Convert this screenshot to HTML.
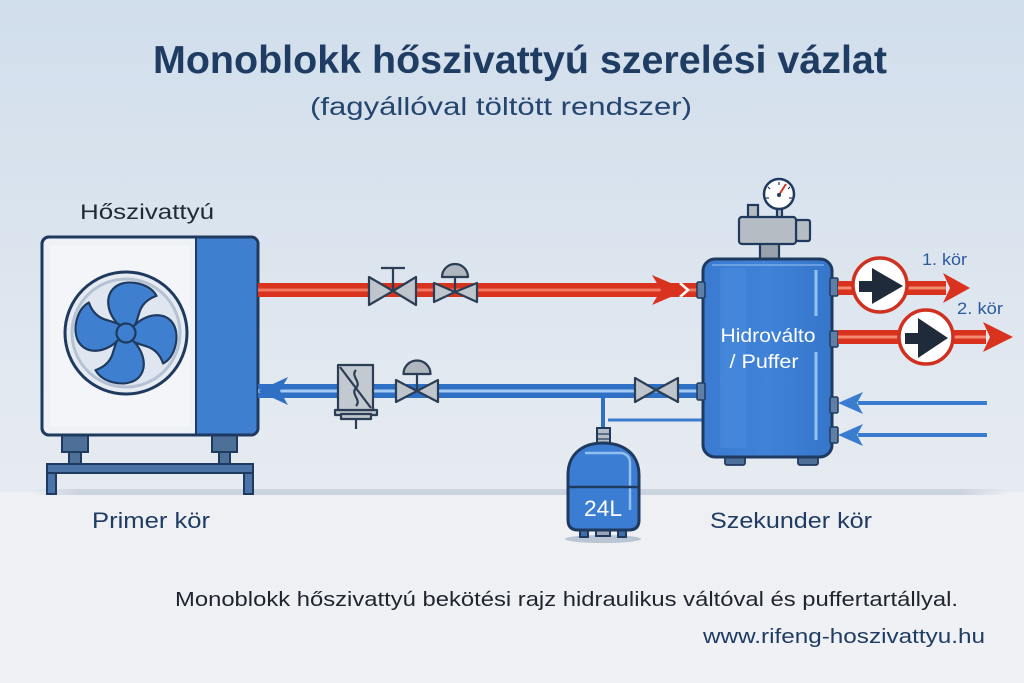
<!DOCTYPE html>
<html><head><meta charset="utf-8">
<style>
html,body{margin:0;padding:0;width:1024px;height:683px;overflow:hidden;}
svg{display:block;}
text{font-family:"Liberation Sans",sans-serif;}
</style></head>
<body>
<svg width="1024" height="683" viewBox="0 0 1024 683" xmlns="http://www.w3.org/2000/svg">
<defs>
<linearGradient id="bg" x1="0" y1="0" x2="0" y2="1">
<stop offset="0" stop-color="#d1deec"/>
<stop offset="0.35" stop-color="#dbe4ee"/>
<stop offset="0.7" stop-color="#e6ebf1"/>
<stop offset="1" stop-color="#eceff3"/>
</linearGradient>
<linearGradient id="floor" x1="0" y1="0" x2="0" y2="1">
<stop offset="0" stop-color="#eef0f4"/>
<stop offset="1" stop-color="#f0f1f4"/>
</linearGradient>
<linearGradient id="puf" x1="0" y1="0" x2="1" y2="0">
<stop offset="0" stop-color="#3a7bd0"/>
<stop offset="0.5" stop-color="#3f82d8"/>
<stop offset="1" stop-color="#3576ca"/>
</linearGradient>
<linearGradient id="floorline" x1="0" y1="0" x2="1" y2="0">
<stop offset="0" stop-color="#cbd3de" stop-opacity="0"/>
<stop offset="0.05" stop-color="#cbd3de"/>
<stop offset="0.95" stop-color="#cbd3de"/>
<stop offset="1" stop-color="#cbd3de" stop-opacity="0"/>
</linearGradient>
</defs>

<!-- background -->
<rect x="0" y="0" width="1024" height="683" fill="url(#bg)"/>
<rect x="0" y="492" width="1024" height="191" fill="url(#floor)"/>
<rect x="30" y="489" width="980" height="6" fill="url(#floorline)"/>

<!-- Titles -->
<text x="153" y="73" font-size="39" font-weight="bold" fill="#1f3c63" textLength="734" lengthAdjust="spacingAndGlyphs">Monoblokk hőszivattyú szerelési vázlat</text>
<text x="310" y="115" font-size="25" fill="#24456f" textLength="382" lengthAdjust="spacingAndGlyphs">(fagyállóval töltött rendszer)</text>

<text x="80" y="219" font-size="21" fill="#222a35" textLength="134" lengthAdjust="spacingAndGlyphs">Hőszivattyú</text>

<!-- Heat pump -->
<g stroke="#1f3a5f" stroke-width="2">
<rect x="62" y="435" width="26" height="17" fill="#4d6f98"/>
<rect x="69" y="452" width="12" height="13" fill="#4d6f98"/>
<rect x="212" y="435" width="25" height="17" fill="#4d6f98"/>
<rect x="219" y="452" width="11" height="13" fill="#4d6f98"/>
<rect x="47" y="464" width="206" height="9" fill="#4a74a8"/>
<rect x="47" y="473" width="9" height="21" fill="#4a74a8"/>
<rect x="244" y="473" width="9" height="21" fill="#4a74a8"/>
</g>
<rect x="42" y="237" width="216" height="198" rx="7" fill="#eef1f6" stroke="#1f3a5f" stroke-width="3"/>
<rect x="50" y="245" width="140" height="182" rx="3" fill="#f3f5f8"/>
<path d="M196,238.5 L250,238.5 Q256.5,238.5 256.5,245 L256.5,427 Q256.5,433.5 250,433.5 L196,433.5 Z" fill="#3f7fcf"/>
<line x1="196" y1="238" x2="196" y2="434" stroke="#1f3a5f" stroke-width="2"/>
<rect x="42" y="237" width="216" height="198" rx="7" fill="none" stroke="#1f3a5f" stroke-width="3"/>
<!-- fan -->
<circle cx="126" cy="333" r="61" fill="#e7ecf3" stroke="#1f3a5f" stroke-width="3"/>
<circle cx="126" cy="333" r="54" fill="#dfe6ef" stroke="#b4c2d3" stroke-width="3"/>
<g transform="translate(126,333) rotate(8)" fill="#3f7fcf" stroke="#1f3a5f" stroke-width="2.2" stroke-linejoin="round">
<path d="M-7,-6 C-22,-16 -28,-36 -15,-46 C-4,-54 17,-52 25,-41 C17,-37 11,-30 10,-20 C9,-13 8,-9 7,-6 Z"/>
<path d="M-7,-6 C-22,-16 -28,-36 -15,-46 C-4,-54 17,-52 25,-41 C17,-37 11,-30 10,-20 C9,-13 8,-9 7,-6 Z" transform="rotate(90)"/>
<path d="M-7,-6 C-22,-16 -28,-36 -15,-46 C-4,-54 17,-52 25,-41 C17,-37 11,-30 10,-20 C9,-13 8,-9 7,-6 Z" transform="rotate(180)"/>
<path d="M-7,-6 C-22,-16 -28,-36 -15,-46 C-4,-54 17,-52 25,-41 C17,-37 11,-30 10,-20 C9,-13 8,-9 7,-6 Z" transform="rotate(270)"/>
<circle cx="0" cy="0" r="9.5"/>
</g>

<!-- Red supply pipe -->
<rect x="258" y="283" width="445" height="14" fill="#d9321f"/>
<rect x="258" y="288.5" width="445" height="3" fill="#f38a72" opacity="0.8"/>
<polygon points="652,275 687,290 652,305 661,290" fill="#d9321f"/>
<polyline points="680,283 688,290 680,297" fill="none" stroke="#ffffff" stroke-width="2.5"/>

<!-- Blue return pipe -->
<rect x="258" y="384" width="445" height="14" fill="#2f6fc4"/>
<rect x="258" y="389.5" width="445" height="3" fill="#a3cbf3"/>
<polygon points="258,391 288,377 280,391 288,405" fill="#2f6fc4"/>

<!-- Valves -->
<g stroke="#2c3e55" stroke-width="2.2" stroke-linejoin="round" fill="#bfc5cc">
<line x1="393" y1="291" x2="393" y2="268"/>
<line x1="381" y1="268" x2="405" y2="268"/>
<polygon points="369,277 369,305 393,291"/>
<polygon points="416,277 416,305 393,291"/>
<line x1="455" y1="277" x2="455" y2="292"/>
<path d="M442,277 A13,13 0 0 1 468,277 Z" fill="#b0b6bd"/>
<polygon points="434,283 434,302 455,292"/>
<polygon points="477,283 477,302 455,292"/>
<line x1="356" y1="416" x2="356" y2="429"/>
<rect x="335" y="410" width="42" height="5" fill="#bfc5cc"/>
<rect x="341" y="414" width="30" height="5" fill="#bfc5cc"/>
<rect x="338" y="365" width="35" height="45" fill="#c3c9d0"/>
<line x1="340" y1="367" x2="371" y2="408"/>
<path d="M356,370 C350,376 362,382 356,388 C350,394 362,400 356,406" fill="none"/>
<line x1="417" y1="374" x2="417" y2="391"/>
<path d="M403.5,374 A13.5,13.5 0 0 1 430.5,374 Z" fill="#b0b6bd"/>
<polygon points="396,380 396,402 417,391"/>
<polygon points="438,380 438,402 417,391"/>
<polygon points="635,378 635,402 656,390"/>
<polygon points="678,378 678,402 656,390"/>
</g>

<!-- Expansion tank connection -->
<rect x="601" y="397" width="4" height="33" fill="#2f6fc4"/>
<rect x="608" y="418.5" width="95" height="3" fill="#3a7cd0"/>

<!-- Expansion tank -->
<ellipse cx="603" cy="539" rx="38" ry="4" fill="#b9c5d3"/>
<g stroke="#1f3a5f" stroke-width="2" fill="#3f6ea8">
<rect x="580" y="528" width="8" height="9"/>
<rect x="596" y="530" width="14" height="6" fill="#9aa6b3"/>
<rect x="618" y="528" width="8" height="9"/>
</g>
<rect x="597" y="428" width="13" height="17" fill="#b5bcc4" stroke="#1f3a5f" stroke-width="2"/>
<line x1="598" y1="434" x2="609" y2="434" stroke="#1f3a5f" stroke-width="1.2"/>
<line x1="598" y1="439" x2="609" y2="439" stroke="#1f3a5f" stroke-width="1.2"/>
<path d="M568,475 C568,452 585,443 603,443 C621,443 639,452 639,475 L639,520 Q639,530 629,530 L578,530 Q568,530 568,520 Z" fill="#3b7dd2" stroke="#1f3a5f" stroke-width="3"/>
<path d="M585,453 L622,453 Q630,455 630,463 L630,510" fill="none" stroke="#9cc6f2" stroke-width="2.5" opacity="0.9"/>
<line x1="568" y1="487" x2="639" y2="487" stroke="#1f3a5f" stroke-width="2.5"/>
<text x="603" y="516" font-size="22" fill="#ffffff" text-anchor="middle" textLength="38" lengthAdjust="spacingAndGlyphs">24L</text>

<!-- Puffer top fitting -->
<g stroke="#1f3a5f" stroke-width="2.2">
<rect x="760" y="243" width="19" height="17" fill="#9aa3ad"/>
<rect x="748" y="205" width="10" height="13" fill="#b5bcc4"/>
<rect x="777" y="207" width="5" height="11" fill="#b5bcc4"/>
<rect x="796" y="220" width="14" height="21" rx="2" fill="#b5bcc4"/>
<rect x="739" y="217" width="57" height="27" rx="3" fill="#b5bcc4"/>
<circle cx="779" cy="194" r="15" fill="#ffffff" stroke-width="2.5"/>
</g>
<g stroke="#1f3a5f" stroke-width="1.2">
<line x1="779" y1="182" x2="779" y2="185"/>
<line x1="768" y1="187" x2="770" y2="189"/>
<line x1="790" y1="187" x2="788" y2="189"/>
<line x1="766" y1="198" x2="769" y2="198"/>
<line x1="792" y1="198" x2="789" y2="198"/>
</g>
<line x1="779" y1="195" x2="786" y2="184" stroke="#d9321f" stroke-width="2"/>
<circle cx="779" cy="195" r="2" fill="#1f3a5f"/>

<!-- Puffer feet -->
<g stroke="#1f3a5f" stroke-width="1.8" fill="#4d6f98">
<rect x="725" y="455" width="20" height="10" rx="2"/>
<rect x="798" y="455" width="20" height="10" rx="2"/>
</g>
<!-- Puffer body -->
<rect x="703" y="259" width="129" height="198" rx="12" fill="url(#puf)" stroke="#1f3a5f" stroke-width="3"/>
<rect x="720" y="268" width="26" height="180" fill="#4a8ce0" opacity="0.55"/>
<line x1="816" y1="270" x2="816" y2="316" stroke="#94c2f0" stroke-width="3"/>
<line x1="816" y1="352" x2="816" y2="440" stroke="#94c2f0" stroke-width="3"/>
<line x1="712" y1="265" x2="824" y2="265" stroke="#7fb0ea" stroke-width="2" opacity="0.7"/>
<g stroke="#1f3a5f" stroke-width="1.5" fill="#5f7fa6">
<rect x="697" y="282" width="8" height="16" rx="1.5"/>
<rect x="697" y="383" width="8" height="17" rx="1.5"/>
<rect x="830" y="278" width="8" height="18" rx="1.5"/>
<rect x="830" y="331" width="8" height="16" rx="1.5"/>
<rect x="830" y="397" width="8" height="16" rx="1.5"/>
<rect x="830" y="427" width="8" height="16" rx="1.5"/>
</g>
<text x="768" y="342" font-size="19" fill="#ffffff" text-anchor="middle" textLength="95" lengthAdjust="spacingAndGlyphs">Hidroválto</text>
<text x="764" y="368" font-size="19" fill="#ffffff" text-anchor="middle" textLength="69" lengthAdjust="spacingAndGlyphs">/ Puffer</text>

<!-- Secondary red outputs -->
<rect x="838" y="281" width="108" height="14" fill="#d9321f"/>
<rect x="838" y="286.5" width="108" height="3" fill="#f38a72"/>
<polygon points="943,273 970,288 943,303 950,288" fill="#d9321f"/>
<rect x="838" y="330" width="148" height="14" fill="#d9321f"/>
<rect x="838" y="335.5" width="148" height="3" fill="#f38a72"/>
<polygon points="983,322 1013,337 983,352 990,337" fill="#d9321f"/>

<!-- Pumps -->
<circle cx="880" cy="285" r="27" fill="#ffffff" stroke="#d0301f" stroke-width="3.5"/>
<path d="M859,281 L872,281 L872,268 L903,286 L872,304 L872,292 L859,292 Z" fill="#1f2a3a"/>
<circle cx="926" cy="337" r="27" fill="#ffffff" stroke="#d0301f" stroke-width="3.5"/>
<path d="M905,333 L918,333 L918,318 L948,338 L918,358 L918,344 L905,344 Z" fill="#1f2a3a"/>

<text x="922" y="265" font-size="17" fill="#2a5b9c" textLength="45" lengthAdjust="spacingAndGlyphs">1. kör</text>
<text x="957" y="314" font-size="17" fill="#2a5b9c" textLength="46" lengthAdjust="spacingAndGlyphs">2. kör</text>

<!-- Blue return arrows -->
<rect x="858" y="401" width="129" height="4" fill="#3a7cd0"/>
<polygon points="838,403 863,392 857,403 863,414" fill="#3a7cd0"/>
<rect x="858" y="433" width="129" height="4" fill="#3a7cd0"/>
<polygon points="838,435 863,424 857,435 863,446" fill="#3a7cd0"/>

<!-- Labels -->
<text x="92" y="528" font-size="22" fill="#1f3c63" textLength="118" lengthAdjust="spacingAndGlyphs">Primer kör</text>
<text x="710" y="528" font-size="22" fill="#1f3c63" textLength="162" lengthAdjust="spacingAndGlyphs">Szekunder kör</text>
<text x="175" y="606" font-size="20" fill="#1e2430" textLength="783" lengthAdjust="spacingAndGlyphs">Monoblokk hőszivattyú bekötési rajz hidraulikus váltóval és puffertartállyal.</text>
<text x="703" y="643" font-size="20" fill="#1f3c63" textLength="282" lengthAdjust="spacingAndGlyphs">www.rifeng-hoszivattyu.hu</text>
</svg>
</body></html>
